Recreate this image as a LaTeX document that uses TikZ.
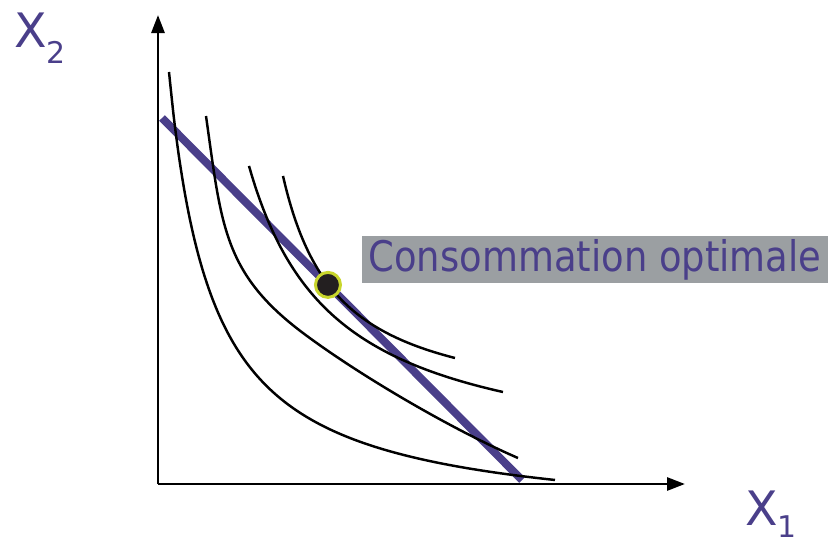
\documentclass[tikz,border=0pt]{standalone}
\usepackage{fontspec}
\usepackage{xcolor}
\usetikzlibrary{arrows.meta}
\newfontfamily\comicfont{DejaVu Sans}
\definecolor{budget}{HTML}{4A3F8A}
\definecolor{boxgray}{HTML}{9B9FA2}
\definecolor{dotrim}{HTML}{C8D62C}
\definecolor{dotfill}{HTML}{231F20}

\begin{document}
\begin{tikzpicture}[
  axis/.style={line width=1.6pt,-{Triangle[length=3.6mm,width=2.6mm]}},
  indiff/.style={line width=1.4pt,samples=80,smooth},
  axlabel/.style={text=budget,font=\comicfont\fontsize{27}{30}\selectfont,inner sep=0pt,anchor=base west}
]
\useasboundingbox (-3.16,-1.16) rectangle (13.44,9.68);
% axes
\coordinate (o) at (0,0);
\coordinate (ytip) at (0,9.38);
\coordinate (xtip) at (10.54,0);
% budget line
\coordinate (b1) at (0.08,7.32);
\coordinate (b2) at (7.28,0.08);
\draw[budget,line width=4.5pt] (b1) -- (b2) coordinate[pos=0.461] (bopt);
% indifference curves
\draw[indiff] plot[domain=0.22:7.94] (\x,{7.899/(\x+0.65)-0.839});
\draw[indiff] (0.96,7.36) .. controls (1.27,5.18) and (1.3,4.22) .. (2.9,3.02)
  .. controls (4.02,2.18) and (5.86,1.1) .. (7.2,0.52);
\draw[indiff] plot[domain=1.82:6.9] (\x,{10.41/(\x-0.1)+0.309});
\draw[indiff] plot[domain=2.5:5.94] (\x,{5.285/(\x-1.4)+1.356});
\draw[axis] (o) -- (ytip);
\draw[axis] (o) -- (xtip);
% optimum
\node[circle,fill=dotfill,draw=dotrim,line width=1.7pt,minimum size=0.5cm,inner sep=0pt] (opt) at (bopt) {};
\node[fill=boxgray,minimum width=9.32cm,minimum height=0.94cm,inner sep=0pt,text=budget,font=\comicfont\fontsize{24}{26}\selectfont] (optlabel) at (8.74,4.49) {\scalebox{0.875}[1]{Consommation optimale}};
% labels
\node[axlabel] (x2) at (-2.88,8.74) {X\raisebox{-0.32cm}{\fontsize{17}{18}\selectfont 2}};
\node[axlabel] (x1) at (11.74,-0.82) {X\raisebox{-0.24cm}{\fontsize{17}{18}\selectfont 1}};
\end{tikzpicture}
\end{document}
